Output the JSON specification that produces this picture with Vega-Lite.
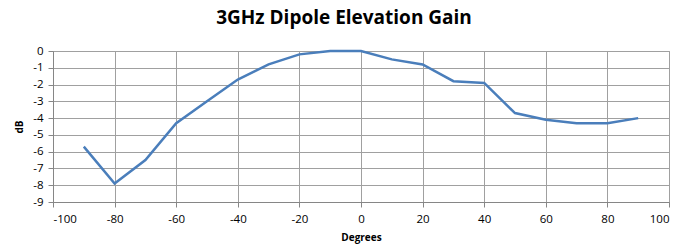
{
  "$schema": "https://vega.github.io/schema/vega-lite/v6.json",
  "width": 616,
  "height": 151,
  "autosize": {"type": "none"},
  "padding": {"left": 53, "top": 51, "right": 27, "bottom": 50},
  "background": "white",
  "title": {
    "text": "3GHz Dipole Elevation Gain",
    "font": "Open Sans",
    "fontSize": 19,
    "fontWeight": "bold",
    "color": "#000000",
    "anchor": "middle",
    "dx": -17,
    "offset": 17
  },
  "config": {
    "view": {"stroke": "#a0a0a0", "strokeWidth": 1},
    "axis": {
      "labelFont": "Open Sans",
      "labelFontSize": 11.5,
      "labelColor": "#000000",
      "titleFont": "Open Sans",
      "titleFontSize": 10,
      "titleFontWeight": "bold",
      "titleColor": "#000000",
      "gridColor": "#a0a0a0",
      "gridOpacity": 1,
      "gridWidth": 1,
      "domainColor": "#868686",
      "tickColor": "#868686",
      "tickSize": 5
    }
  },
  "data": {
    "values": [
      {"deg": -90, "db": -5.7},
      {"deg": -80, "db": -7.9},
      {"deg": -70, "db": -6.5},
      {"deg": -60, "db": -4.3},
      {"deg": -50, "db": -3.0},
      {"deg": -40, "db": -1.7},
      {"deg": -30, "db": -0.8},
      {"deg": -20, "db": -0.2},
      {"deg": -10, "db": 0.0},
      {"deg": 0, "db": 0.0},
      {"deg": 10, "db": -0.5},
      {"deg": 20, "db": -0.8},
      {"deg": 30, "db": -1.8},
      {"deg": 40, "db": -1.9},
      {"deg": 50, "db": -3.7},
      {"deg": 60, "db": -4.1},
      {"deg": 70, "db": -4.3},
      {"deg": 80, "db": -4.3},
      {"deg": 90, "db": -4.0}
    ]
  },
  "mark": {"type": "line", "color": "#4a7ebb", "strokeWidth": 2.5},
  "encoding": {
    "x": {
      "field": "deg",
      "type": "quantitative",
      "title": "Degrees",
      "scale": {"domain": [-100, 100], "nice": false},
      "axis": {"values": [-100, -80, -60, -40, -20, 0, 20, 40, 60, 80, 100], "labelExpr": "replace(datum.label, '\u2212', '-')", "labelPadding": 6, "titlePadding": 8}
    },
    "y": {
      "field": "db",
      "type": "quantitative",
      "title": "dB",
      "scale": {"domain": [-9, 0], "nice": false},
      "axis": {"values": [-9, -8, -7, -6, -5, -4, -3, -2, -1, 0], "labelExpr": "replace(datum.label, '\u2212', '-')", "labelPadding": 5, "titlePadding": 8}
    }
  }
}
